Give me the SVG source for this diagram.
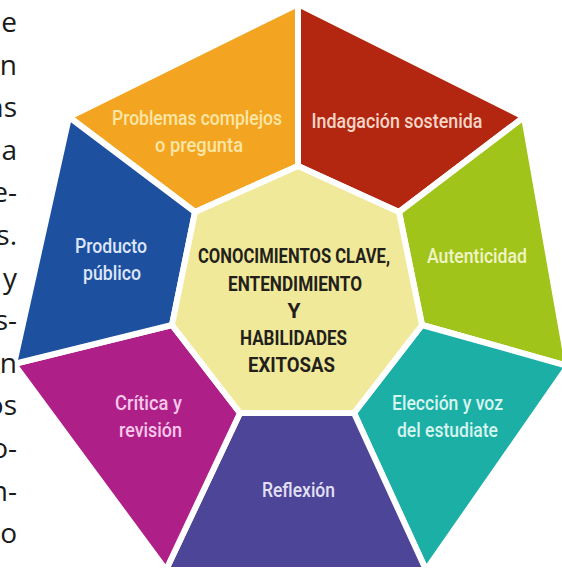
<svg xmlns="http://www.w3.org/2000/svg" width="562" height="569" viewBox="0 0 562 569">
<style>
.seg{stroke:#fff;stroke-width:6;stroke-linejoin:miter}
.lbl{font-family:Roboto,"Liberation Sans",sans-serif;font-weight:500;font-size:20px;text-anchor:middle}
.ctr{font-family:Roboto,"Liberation Sans",sans-serif;font-weight:700;font-size:21px;text-anchor:middle;fill:#231f1a}
.side{font-family:"Open Sans","Liberation Sans",sans-serif;font-size:28px;text-anchor:end;fill:#1a1a1a}
</style>
<rect width="562" height="569" fill="#fff"/>
<g id="problemas">
<polygon class="seg" fill="#F3A521" points="195,212 69,117 298,4 298,166"/>
<text class="lbl" fill="#FCE6A6" x="197" y="125" textLength="170" lengthAdjust="spacingAndGlyphs">Problemas complejos</text>
<text class="lbl" fill="#FCE6A6" x="199" y="152" textLength="88" lengthAdjust="spacingAndGlyphs">o pregunta</text>
</g>
<g id="indagacion">
<polygon class="seg" fill="#B3260F" points="298,166 298,4 524,117 399,212"/>
<text class="lbl" fill="#F6D6C8" x="397" y="128" textLength="171" lengthAdjust="spacingAndGlyphs">Indagación sostenida</text>
</g>
<g id="autenticidad">
<polygon class="seg" fill="#A0C41A" points="399,212 524,117 568,366 422,325"/>
<text class="lbl" fill="#F1F4C6" x="477" y="263" textLength="100" lengthAdjust="spacingAndGlyphs">Autenticidad</text>
</g>
<g id="eleccion">
<polygon class="seg" fill="#1BAFA6" points="422,325 568,366 426,570 354,413"/>
<text class="lbl" fill="#D6F5EF" x="447.5" y="410" textLength="111" lengthAdjust="spacingAndGlyphs">Elección y voz</text>
<text class="lbl" fill="#D6F5EF" x="447.5" y="437" textLength="101" lengthAdjust="spacingAndGlyphs">del estudiate</text>
</g>
<g id="reflexion">
<polygon class="seg" fill="#4D4598" points="354,413 426,570 166,570 240,413"/>
<text class="lbl" fill="#E3E0F4" x="298.5" y="497" textLength="73" lengthAdjust="spacingAndGlyphs">Reflexión</text>
</g>
<g id="critica">
<polygon class="seg" fill="#AE2087" points="240,413 166,570 14,364 172,325"/>
<text class="lbl" fill="#F8C8EA" x="148.5" y="410" textLength="67" lengthAdjust="spacingAndGlyphs">Crítica y</text>
<text class="lbl" fill="#F8C8EA" x="150.5" y="437" textLength="63" lengthAdjust="spacingAndGlyphs">revisión</text>
</g>
<g id="producto">
<polygon class="seg" fill="#1E50A0" points="172,325 14,364 69,117 195,212"/>
<text class="lbl" fill="#DCE6F8" x="111" y="253" textLength="72" lengthAdjust="spacingAndGlyphs">Producto</text>
<text class="lbl" fill="#DCE6F8" x="112" y="280" textLength="58" lengthAdjust="spacingAndGlyphs">público</text>
</g>
<g id="centro">
<polygon class="seg" fill="#F1E99A" points="298,166 399,212 422,325 354,413 240,413 172,325 195,212"/>
<text class="ctr" x="294" y="263" textLength="192" lengthAdjust="spacingAndGlyphs">CONOCIMIENTOS CLAVE,</text>
<text class="ctr" x="295" y="291" textLength="134" lengthAdjust="spacingAndGlyphs">ENTENDIMIENTO</text>
<text class="ctr" x="294" y="318">Y</text>
<text class="ctr" x="293.5" y="345" textLength="107" lengthAdjust="spacingAndGlyphs">HABILIDADES</text>
<text class="ctr" x="291.5" y="372" textLength="87" lengthAdjust="spacingAndGlyphs">EXITOSAS</text>
</g>
<g id="side-text">
<text class="side" x="17" y="32">e</text>
<text class="side" x="17" y="74.6">n</text>
<text class="side" x="17" y="117.2">as</text>
<text class="side" x="17" y="159.8">a</text>
<text class="side" x="17" y="202.4">e-</text>
<text class="side" x="17" y="245">s.</text>
<text class="side" x="17" y="287.6">y</text>
<text class="side" x="17" y="330.2">s-</text>
<text class="side" x="17" y="372.8">n</text>
<text class="side" x="17" y="415.4">os</text>
<text class="side" x="17" y="458">o-</text>
<text class="side" x="17" y="500.6">n-</text>
<text class="side" x="17" y="543.2">o</text>
</g>
</svg>
